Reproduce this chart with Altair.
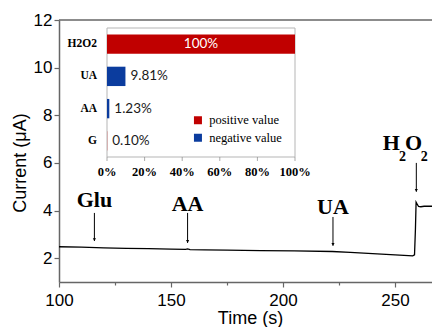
import altair as alt
import pandas as pd

# ---------------- main amperometric trace ----------------
time_s = [100, 110, 120, 130, 140, 150, 156.5, 157.4, 158.5, 165, 175, 190, 205, 222,
          230, 240, 250, 256, 257.9, 258.7, 259.1, 259.4, 259.8, 260.5, 261.5, 263, 266.5]
current_uA = [2.48, 2.46, 2.43, 2.41, 2.40, 2.38, 2.37, 2.39, 2.36, 2.35, 2.34, 2.32, 2.31, 2.28,
              2.24, 2.19, 2.14, 2.11, 2.10, 2.14, 3.20, 4.35, 4.28, 4.17, 4.16, 4.18, 4.18]

# injection annotations
ann_names = ["Glu", "AA", "UA"]
ann_time = [115.8, 157.4, 222.3]
ann_top = [3.90, 3.90, 3.73]
ann_tip = [2.72, 2.64, 2.52]
ann_label_y = [4.14, 3.99, 3.85]

h2o2_time = [259.5]
h2o2_top = [6.0]
h2o2_tip = [4.79]
h2o2_label_y = [6.54]

# ---------------- inset (selectivity) ----------------
inset_cats = ["H2O2", "UA", "AA", "G"]
inset_pct = [100, 9.81, 1.23, 0.10]
inset_text = ["100%", "9.81%", "1.23%", "0.10%"]
inset_sign = ["positive value", "negative value", "negative value", "positive value"]
inset_ticks = [0, 20, 40, 60, 80, 100]

SERIF = "Liberation Serif"
SANS = "Liberation Sans"
AXC = "#666666"

line_df = pd.DataFrame({"t": time_s, "v": current_uA})
ann_df = pd.DataFrame({"t": ann_time, "top": ann_top, "tip": ann_tip,
                       "ly": ann_label_y, "name": ann_names})
h_df = pd.DataFrame({"t": h2o2_time, "top": h2o2_top, "tip": h2o2_tip, "ly": h2o2_label_y})
inset_df = pd.DataFrame({"cat": inset_cats, "pct": inset_pct, "txt": inset_text,
                         "sign": inset_sign, "idx": list(range(len(inset_cats)))})
tick_df = pd.DataFrame({"p": inset_ticks})

xs = alt.Scale(domain=[100, 266.5], nice=False, zero=False)
ys = alt.Scale(domain=[1, 12], nice=False, zero=False)
XT = "Time (s)"
YT = "Current (μA)"

x_axis = alt.Axis(values=[100, 125, 150, 175, 200, 225, 250],
                  labelExpr="datum.value % 50 == 0 ? datum.label : ''",
                  tickSize={"condition": {"test": "datum.value % 50 == 0", "value": 5}, "value": 3},
                  labelPadding=5, labelFlush=False, labelOverlap=False,
                  titleX=191, titleY=27, titleBaseline="top", titleAlign="center")
y_axis = alt.Axis(values=[2, 3, 4, 5, 6, 7, 8, 9, 10, 11, 12],
                  labelExpr="datum.value % 2 == 0 ? datum.label : ''",
                  tickSize={"condition": {"test": "datum.value % 2 == 0", "value": 5}, "value": 3},
                  labelPadding=2, labelFlush=False, labelOverlap=False,
                  titleX=-34, titleY=142.5, titleAlign="center", titleBaseline="alphabetic")

trace = alt.Chart(line_df).mark_line(color="black", strokeWidth=1.3).encode(
    x=alt.X("t:Q", scale=xs, axis=x_axis, title=XT),
    y=alt.Y("v:Q", scale=ys, axis=y_axis, title=YT),
)

top_rule = alt.Chart(pd.DataFrame({"v": [12]})).mark_rule(color=AXC, strokeWidth=1.5).encode(
    y=alt.Y("v:Q", scale=ys, title=YT)
)

arrow_path = "M-0.5,-0.9L0.5,-0.9L0,0Z"

arrows = alt.Chart(ann_df).mark_rule(color="black", strokeWidth=1).encode(
    x=alt.X("t:Q", scale=xs, title=XT),
    y=alt.Y("top:Q", scale=ys, title=YT),
    y2="tip:Q",
)
heads = alt.Chart(ann_df).mark_point(shape=arrow_path, filled=True, size=40, color="black",
                                     opacity=1).encode(
    x=alt.X("t:Q", scale=xs, title=XT),
    y=alt.Y("tip:Q", scale=ys, title=YT),
)
labels = alt.Chart(ann_df).mark_text(font=SERIF, fontWeight="bold", fontSize=22,
                                     baseline="alphabetic", color="black").encode(
    x=alt.X("t:Q", scale=xs, title=XT),
    y=alt.Y("ly:Q", scale=ys, title=YT),
    text="name:N",
)

h_arrow = alt.Chart(h_df).mark_rule(color="black", strokeWidth=1).encode(
    x=alt.X("t:Q", scale=xs, title=XT),
    y=alt.Y("top:Q", scale=ys, title=YT),
    y2="tip:Q",
)
h_head = alt.Chart(h_df).mark_point(shape=arrow_path, filled=True, size=40, color="black",
                                    opacity=1).encode(
    x=alt.X("t:Q", scale=xs, title=XT),
    y=alt.Y("tip:Q", scale=ys, title=YT),
)


def h_piece(txt, dx, dy, size):
    return alt.Chart(h_df).mark_text(font=SERIF, fontWeight="bold", fontSize=size,
                                     baseline="alphabetic", align="left", dx=dx, dy=dy,
                                     color="black", text=txt).encode(
        x=alt.X("t:Q", scale=xs, title=XT),
        y=alt.Y("ly:Q", scale=ys, title=YT),
    )


h_label = [h_piece("H", -33.6, 0, 22), h_piece("2", -17.3, 11, 14),
           h_piece("O", -11.3, 0, 22), h_piece("2", 4.4, 11, 14)]

main = alt.layer(trace, top_rule, arrows, heads, labels, h_arrow, h_head, *h_label)

# ---------------- inset layers ----------------
ixs = alt.Scale(domain=[0, 100], range=[48, 236], nice=False, zero=False)
iys = alt.Scale(domain=[0, 4], range=[8, 137], nice=False, zero=False)

ibase = alt.Chart(inset_df).transform_calculate(
    x0="0", y0="datum.idx + 0.2", y1="datum.idx + 0.8", ym="datum.idx + 0.5",
    pmid="datum.pct / 2"
)

frame = alt.Chart(pd.DataFrame({"a": [0], "b": [100], "c": [0], "d": [4]})).mark_rect(
    filled=False, stroke="#b5b5b5", strokeWidth=1).encode(
    x=alt.X("a:Q", scale=ixs, axis=None),
    x2="b:Q",
    y=alt.Y("c:Q", scale=iys, axis=None),
    y2="d:Q",
)

bars = ibase.mark_rect().encode(
    x=alt.X("x0:Q", scale=ixs, axis=None),
    x2="pct:Q",
    y=alt.Y("y0:Q", scale=iys, axis=None),
    y2="y1:Q",
    color=alt.Color("sign:N",
                    scale=alt.Scale(domain=["positive value", "negative value"],
                                    range=["#C00000", "#0B3C9E"]),
                    legend=alt.Legend(title=None, orient="none", legendX=132.7, legendY=94,
                                      symbolType="square", symbolSize=64, symbolStrokeWidth=0,
                                      labelFont=SERIF, labelFontSize=12.5, labelColor="black",
                                      labelOffset=5, rowPadding=4.5, padding=0)),
)

cat_labels = ibase.mark_text(font=SERIF, fontWeight="bold", fontSize=11.5, align="right",
                             dx=-10, baseline="middle", color="black").encode(
    x=alt.X("x0:Q", scale=ixs, axis=None),
    y=alt.Y("ym:Q", scale=iys, axis=None),
    text="cat:N",
)

val_out = ibase.transform_filter("datum.pct < 100").mark_text(
    font="Lato", fontSize=13.5, align="left", dx=5, baseline="middle", color="#1a1a1a").encode(
    x=alt.X("pct:Q", scale=ixs, axis=None),
    y=alt.Y("ym:Q", scale=iys, axis=None),
    text="txt:N",
)

val_in = ibase.transform_filter("datum.pct >= 100").mark_text(
    font="Lato", fontSize=13.5, align="center", baseline="middle", color="white").encode(
    x=alt.X("pmid:Q", scale=ixs, axis=None),
    y=alt.Y("ym:Q", scale=iys, axis=None),
    text="txt:N",
)

iticks = alt.Chart(tick_df).transform_calculate(yb="4").mark_tick(
    orient="vertical", size=4, thickness=1, color="#888888", yOffset=2).encode(
    x=alt.X("p:Q", scale=ixs, axis=None),
    y=alt.Y("yb:Q", scale=iys, axis=None),
)

ilabels = alt.Chart(tick_df).transform_calculate(yb="4", lab="datum.p + '%'").mark_text(
    font=SERIF, fontWeight="bold", fontSize=12.5, baseline="alphabetic", dy=19,
    color="black").encode(
    x=alt.X("p:Q", scale=ixs, axis=None),
    y=alt.Y("yb:Q", scale=iys, axis=None),
    text="lab:N",
)

inset = alt.layer(frame, bars, cat_labels, val_out, val_in, iticks, ilabels)

chart = alt.layer(main, inset).resolve_scale(
    x="independent", y="independent"
).properties(
    width=373, height=262,
    padding={"left": 59, "top": 20, "right": 0, "bottom": 45},
    autosize="none",
).configure_view(
    strokeWidth=0
).configure_axis(
    domainColor=AXC, domainWidth=1.5, tickColor=AXC, tickWidth=1.2,
    labelFont=SANS, labelFontSize=17, labelColor="black",
    titleFont=SANS, titleFontSize=18, titleFontWeight="normal", titleColor="black",
    grid=False,
)

chart.save("out.html", embed_options={"renderer": "svg", "actions": False})
